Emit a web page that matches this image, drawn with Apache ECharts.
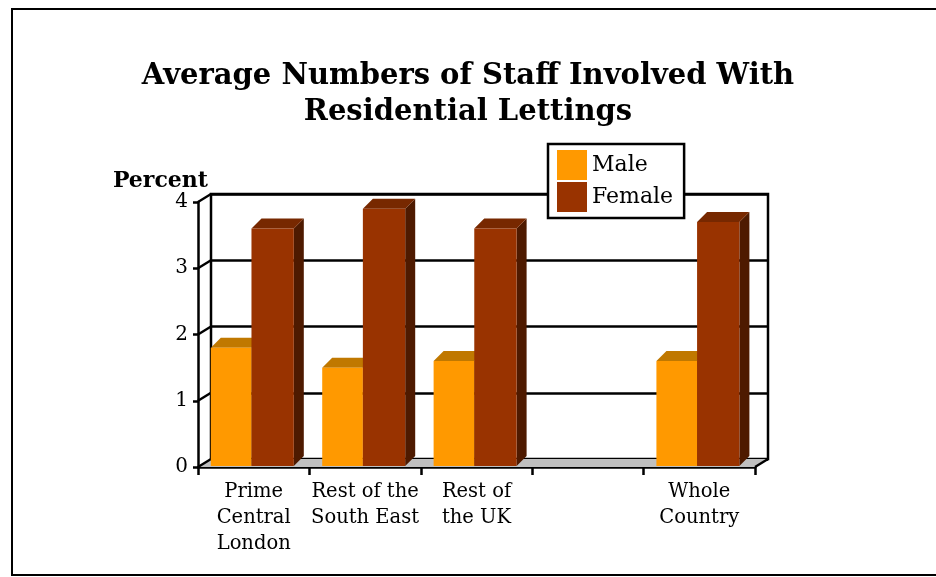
<!DOCTYPE html>
<html><head><meta charset="utf-8">
<script src="https://cdn.jsdelivr.net/npm/echarts@6/dist/echarts.min.js"></script>
<style>html,body{margin:0;padding:0;background:#fff}#c{width:936px;height:577px}</style>
</head><body><div id="c"></div>
<script>
const categories = ['Prime\nCentral\nLondon', 'Rest of the\nSouth East', 'Rest of\nthe UK', '', 'Whole\nCountry'];
const maleValues = [1.8, 1.5, 1.6, null, 1.6];
const femaleValues = [3.6, 3.9, 3.6, null, 3.7];
const yTicks = [0, 1, 2, 3, 4];
const seriesNames = ['Male', 'Female'];
const titleText = 'Average Numbers of Staff Involved With\nResidential Lettings';
const yAxisName = 'Percent';

const FONT = '"DejaVu Serif", serif';
const DX = 10, DY = -10;   // bar depth
const WX = 13, WY = -8;    // wall depth

const chart = echarts.init(document.getElementById('c'), null, {renderer: 'canvas'});

function barRender(colors, x0f, x1f) {
  return function (params, api) {
    const v = api.value(1);
    if (v == null || isNaN(v)) return;
    const idx = api.value(0);
    const top = api.coord([idx, v]);
    const base = api.coord([idx, 0]);
    const bw = api.size([1, 0])[0];
    const xl = top[0] + x0f * bw, xr = top[0] + x1f * bw;
    const yt = top[1], yb = base[1] - 1;
    return {type: 'group', children: [
      {type: 'polygon', shape: {points: [[xr, yt], [xr + DX, yt + DY], [xr + DX, yb + DY], [xr, yb]]}, style: {fill: colors.side}},
      {type: 'polygon', shape: {points: [[xl, yt], [xl + DX, yt + DY], [xr + DX, yt + DY], [xr, yt]]}, style: {fill: colors.top}},
      {type: 'rect', shape: {x: xl, y: yt, width: xr - xl, height: yb - yt}, style: {fill: colors.front}}
    ]};
  };
}

function frameRender(params, api) {
  const t = api.value(1);
  const bw = api.size([1, 0])[0];
  const p = api.coord([0, t]);
  const xL = p[0] - bw / 2;
  const y = p[1];
  const children = [
    {type: 'line', shape: {x1: xL, y1: y, x2: xL + WX, y2: y + WY}, style: {stroke: '#000', lineWidth: 2.5}}
  ];
  if (t === 0) {
    const pr = api.coord([categories.length - 1, 0]);
    const xR = pr[0] + bw / 2;
    children.unshift({type: 'polygon', shape: {points: [[xL, y], [xR, y], [xR + WX, y + WY], [xL + WX, y + WY]]}, style: {fill: '#C0C0C0'}});
    children.push({type: 'line', shape: {x1: xR, y1: y, x2: xR + WX, y2: y + WY}, style: {stroke: '#000', lineWidth: 2.5}});
  }
  return {type: 'group', children: children};
}

const option = {
  backgroundColor: '#fff',
  animation: false,
  title: {
    text: titleText, left: 'center', top: 53,
    textStyle: {fontFamily: FONT, fontSize: 29, fontWeight: 'bold', color: '#000', lineHeight: 36}
  },
  legend: {
    data: seriesNames, orient: 'vertical', left: 548, top: 144,
    icon: 'rect', itemWidth: 30, itemHeight: 30, itemGap: 2,
    padding: [6, 11, 6, 9],
    backgroundColor: '#fff', borderColor: '#000', borderWidth: 2.5, borderRadius: 0,
    textStyle: {fontFamily: FONT, fontSize: 22, color: '#000'},
    z: 10
  },
  graphic: [
    {type: 'rect', shape: {x: 12, y: 9, width: 940, height: 566}, style: {fill: 'none', stroke: '#000', lineWidth: 2}, z: -1, silent: true}
  ],
  grid: [
    {left: 198, top: 202, width: 557, height: 265, show: false},
    {left: 211, top: 194, width: 557, height: 265, show: true, borderColor: '#000', borderWidth: 2.5, backgroundColor: 'transparent'}
  ],
  xAxis: [
    {type: 'category', gridIndex: 0, data: categories,
      axisLine: {lineStyle: {color: '#000', width: 2.5}},
      axisTick: {show: true, length: 8, lineStyle: {color: '#000', width: 2.5}},
      axisLabel: {fontFamily: FONT, fontSize: 19.5, color: '#000', lineHeight: 26, margin: 12, interval: 0}
    },
    {type: 'category', gridIndex: 1, data: categories, show: false}
  ],
  yAxis: [
    {type: 'value', gridIndex: 0, min: 0, max: 4, interval: 1,
      name: yAxisName, nameLocation: 'end', nameGap: 8,
      nameTextStyle: {fontFamily: FONT, fontSize: 22, fontWeight: 'bold', color: '#000', align: 'right', padding: [0, -10, 0, 0]},
      axisLine: {show: true, lineStyle: {color: '#000', width: 2.5}},
      axisTick: {show: true, length: 5, lineStyle: {color: '#000', width: 2.5}},
      axisLabel: {fontFamily: FONT, fontSize: 20, color: '#000', margin: 10},
      splitLine: {show: false}
    },
    {type: 'value', gridIndex: 1, min: 0, max: 4, interval: 1,
      axisLine: {show: false}, axisTick: {show: false}, axisLabel: {show: false},
      splitLine: {show: true, lineStyle: {color: '#000', width: 2.5}}
    }
  ],
  series: [
    {type: 'custom', name: '__frame', xAxisIndex: 0, yAxisIndex: 0, z: 1, silent: true,
      renderItem: frameRender, data: yTicks.map(t => [0, t])},
    {type: 'custom', name: seriesNames[0], xAxisIndex: 0, yAxisIndex: 0, z: 3,
      itemStyle: {color: '#FF9900'},
      renderItem: barRender({front: '#FF9900', top: '#C07800', side: '#9A5C00'}, -0.385, -0.02),
      data: maleValues.map((v, i) => [i, v])},
    {type: 'custom', name: seriesNames[1], xAxisIndex: 0, yAxisIndex: 0, z: 4,
      itemStyle: {color: '#993300'},
      renderItem: barRender({front: '#993300', top: '#772800', side: '#4E1A00'}, -0.02, 0.36),
      data: femaleValues.map((v, i) => [i, v])}
  ]
};
chart.setOption(option);
</script></body></html>
